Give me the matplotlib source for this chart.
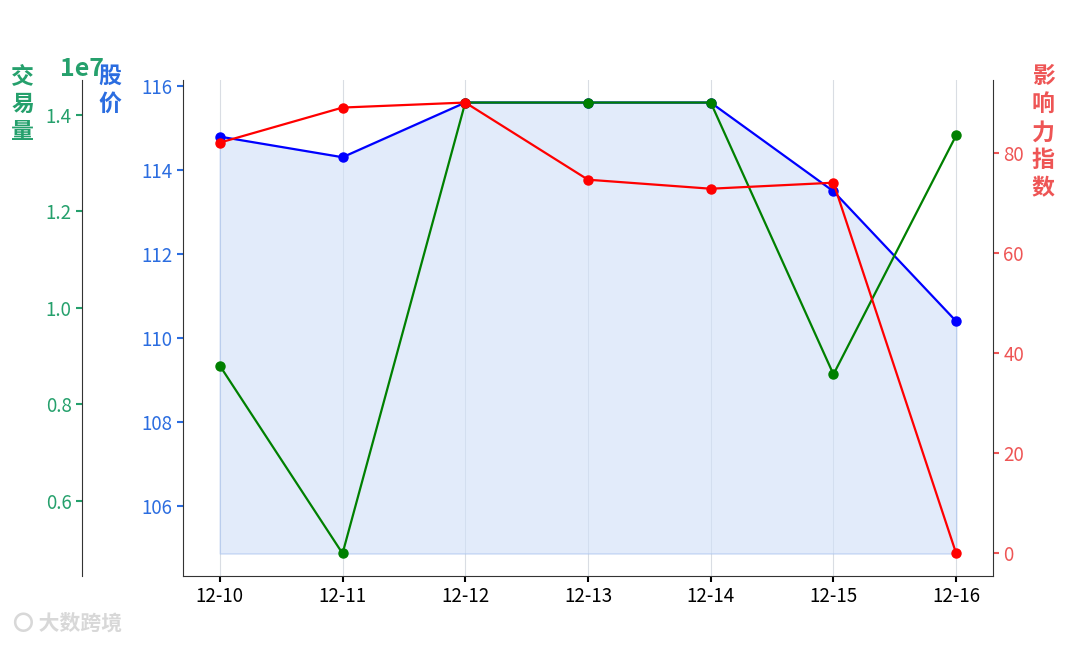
import matplotlib
matplotlib.use("Agg")
import matplotlib.pyplot as plt
import numpy as np

plt.rcParams['font.family'] = ['Noto Sans CJK SC', 'DejaVu Sans']
plt.rcParams['axes.unicode_minus'] = False

dates = ["12-10", "12-11", "12-12", "12-13", "12-14", "12-15", "12-16"]
price = [114.79, 114.30, 115.60, 115.60, 115.60, 113.49, 110.40]
price_base = 104.88
volume = [0.880e7, 0.491e7, 1.425e7, 1.425e7, 1.425e7, 0.862e7, 1.357e7]
influence = [82.0, 89.0, 90.0, 74.6, 72.8, 74.0, 0.0]

c_blue_lab = "#2b6de0"
c_green_lab = "#25a06c"
c_red_lab = "#ee5555"
TICK_FS = 13.5
LAB_FS = 16.5
LS = 1.28

fig = plt.figure(figsize=(10.8, 6.48), dpi=100)
ax1 = fig.add_axes([183/1080, 1-576/648, 810/1080, 496/648])
x = np.arange(len(dates))

ax1.fill_between(x, price, price_base, color="#cfdff8", alpha=0.6,
                 edgecolor="#a9c3ef", linewidth=1)
ax1.plot(x, price, color="blue", marker="o", markersize=6.5, linewidth=1.6)
ax1.set_xlim(-0.3, 6.3)
ax1.set_xticks(x)
ax1.set_xticklabels(dates)
ax1.grid(axis="x", color="#d9dde3", linewidth=0.8)
ax1.set_axisbelow(True)
ax1.tick_params(axis="y", colors=c_blue_lab, labelsize=TICK_FS, length=4, width=1.5)
ax1.tick_params(axis="x", labelsize=TICK_FS, length=4, width=1.5)
for s in ["top", "right"]:
    ax1.spines[s].set_visible(False)
for s in ["left", "bottom"]:
    ax1.spines[s].set_color("#333333")
ax1.set_ylabel("股\n价", rotation=0, color=c_blue_lab, fontsize=LAB_FS,
               fontweight="bold", linespacing=LS)
ax1.yaxis.set_label_coords(-0.09, 1.03)
ax1.yaxis.label.set_va("top")

# green (volume) axis, left outward
ax3 = ax1.twinx()
ax3.plot(x, volume, color="green", marker="o", markersize=6.5, linewidth=1.6)
ax3.yaxis.set_ticks_position("left")
ax3.yaxis.set_label_position("left")
ax3.spines["left"].set_position(("outward", 72.7))
ax3.spines["left"].set_visible(True)
ax3.spines["left"].set_color("#333333")
for s in ["top", "right", "bottom"]:
    ax3.spines[s].set_visible(False)
ax3.set_yticks([0.6e7, 0.8e7, 1.0e7, 1.2e7, 1.4e7])
ax3.tick_params(axis="y", colors=c_green_lab, labelsize=TICK_FS, length=4, width=1.5)
ot = ax3.yaxis.get_offset_text()
ot.set_color(c_green_lab)
ot.set_fontsize(18)
ot.set_fontweight("bold")
ot.set_x(-0.125)
ot.set_ha("center")
ax3.set_ylabel("交\n易\n量", rotation=0, color=c_green_lab, fontsize=LAB_FS,
               fontweight="bold", linespacing=LS)
ax3.yaxis.set_label_coords(-0.198, 1.03)
ax3.yaxis.label.set_va("top")

# red (influence) axis
ax2 = ax1.twinx()
ax2.plot(x, influence, color="red", marker="o", markersize=6.5, linewidth=1.6)
for s in ["top", "left", "bottom"]:
    ax2.spines[s].set_visible(False)
ax2.spines["right"].set_color("#333333")
ax2.set_yticks([0, 20, 40, 60, 80])
ax2.tick_params(axis="y", colors=c_red_lab, labelsize=TICK_FS, length=4, width=1.5)
ax2.set_ylabel("影\n响\n力\n指\n数", rotation=0, color=c_red_lab, fontsize=LAB_FS,
               fontweight="bold", linespacing=LS)
ax2.yaxis.set_label_coords(1.062, 1.03)
ax2.yaxis.label.set_va("top")

fig.text(0.012, 0.028, "〇 大数跨境", fontsize=15, color="#d8d8d8", fontweight="bold")

fig.savefig("out.png", dpi=100)
